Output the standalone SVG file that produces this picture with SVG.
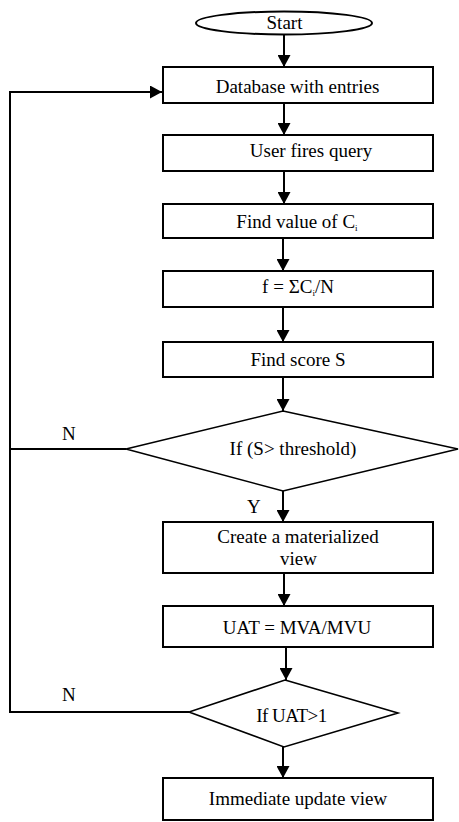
<svg xmlns="http://www.w3.org/2000/svg" width="459" height="822" viewBox="0 0 459 822">
<style>
.box{fill:#fff;stroke:#000;stroke-width:2}
.dia{fill:#fff;stroke:#000;stroke-width:1.6}
.t{font-family:"Liberation Serif","Times New Roman",serif;font-size:19px;fill:#000;text-anchor:middle}
.lbl{font-family:"Liberation Serif","Times New Roman",serif;font-size:19px;fill:#000}
.c{fill:none;stroke:#000;stroke-width:2}
.sub{font-size:9px}
</style>
<defs>
<marker id="ah" markerUnits="userSpaceOnUse" markerWidth="13" markerHeight="13" refX="12" refY="6.5" orient="auto" viewBox="0 0 13 13">
<path d="M0,0 L12,6.5 L0,13 z" fill="#000"/>
</marker>
</defs>
<rect width="459" height="822" fill="#fff"/>
<g id="connectors">
<line class="c" x1="284" y1="34" x2="284" y2="67" marker-end="url(#ah)"/>
<line class="c" x1="284" y1="103" x2="284" y2="135" marker-end="url(#ah)"/>
<line class="c" x1="284" y1="171" x2="284" y2="204" marker-end="url(#ah)"/>
<line class="c" x1="283" y1="238" x2="283" y2="271" marker-end="url(#ah)"/>
<line class="c" x1="283" y1="307" x2="283" y2="342" marker-end="url(#ah)"/>
<line class="c" x1="283" y1="377" x2="283" y2="411" marker-end="url(#ah)"/>
<line class="c" x1="283" y1="491" x2="283" y2="522" marker-end="url(#ah)"/>
<line class="c" x1="284" y1="573" x2="284" y2="606" marker-end="url(#ah)"/>
<line class="c" x1="286" y1="647" x2="286" y2="680" marker-end="url(#ah)"/>
<line class="c" x1="283" y1="747" x2="283" y2="778" marker-end="url(#ah)"/>
<line class="c" x1="126" y1="449" x2="10" y2="449"/>
<polyline class="c" points="189,712 10,712 10,92 162,92" marker-end="url(#ah)"/>
<text class="lbl" x="62" y="440">N</text>
<text class="lbl" x="247" y="513">Y</text>
<text class="lbl" x="62" y="701">N</text>
</g>
<g id="start">
<ellipse class="box" cx="284" cy="23" rx="88" ry="11.5"/>
<text class="t" x="284.5" y="29">Start</text>
</g>
<g id="database">
<rect class="box" x="163" y="67" width="270" height="36"/>
<text class="t" x="297.5" y="93">Database with entries</text>
</g>
<g id="user-query">
<rect class="box" x="163" y="135" width="270" height="36"/>
<text class="t" x="311" y="157">User fires query</text>
</g>
<g id="find-ci">
<rect class="box" x="163" y="204" width="270" height="34"/>
<text class="t" x="297" y="228">Find value of C<tspan class="sub" dy="3">i</tspan></text>
</g>
<g id="f-formula">
<rect class="box" x="163" y="271" width="270" height="36"/>
<text class="t" x="298" y="293">f = ΣC<tspan class="sub" dy="3">i</tspan><tspan dy="-3">/N</tspan></text>
</g>
<g id="find-score">
<rect class="box" x="163" y="342" width="270" height="35"/>
<text class="t" x="298" y="366">Find score S</text>
</g>
<g id="decision-threshold">
<polygon class="dia" points="283,411 458,449 283,491 126,449"/>
<text class="t" x="293" y="455">If (S&gt; threshold)</text>
</g>
<g id="create-view">
<rect class="box" x="163" y="522" width="270" height="51"/>
<text class="t" x="298" y="543">Create a materialized</text>
<text class="t" x="298.5" y="565">view</text>
</g>
<g id="uat">
<rect class="box" x="163" y="606" width="270" height="41"/>
<text class="t" x="297" y="634">UAT = MVA/MVU</text>
</g>
<g id="decision-uat">
<polygon class="dia" points="285,680 398,713 284,747 189,712"/>
<text class="t" x="291.5" y="722" letter-spacing="-0.5">If UAT&gt;1</text>
</g>
<g id="immediate">
<rect class="box" x="163" y="778" width="270" height="42"/>
<text class="t" x="298" y="805">Immediate update view</text>
</g>
</svg>
